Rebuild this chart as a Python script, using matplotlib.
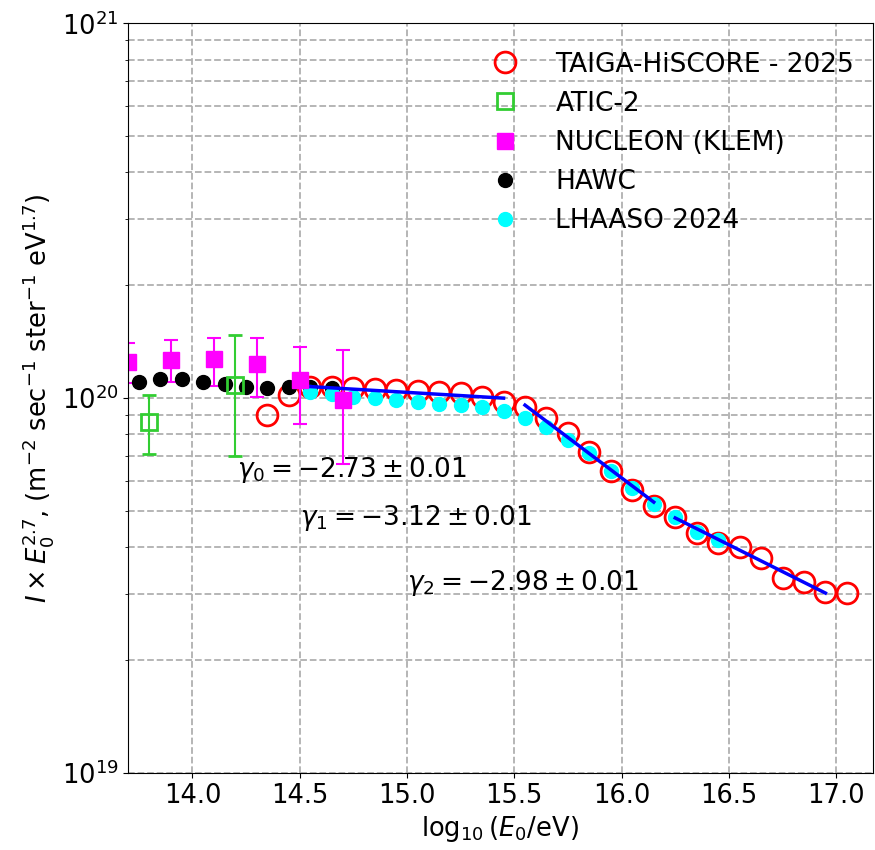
import numpy as np
import matplotlib
matplotlib.use('Agg')
import matplotlib.pyplot as plt

# TAIGA-HiSCORE 2025
taiga_x = [14.35, 14.45, 14.55, 14.65, 14.75, 14.85, 14.95, 15.05, 15.15, 15.25,
           15.35, 15.45, 15.55, 15.65, 15.75, 15.85, 15.95, 16.05, 16.15, 16.25,
           16.35, 16.45, 16.55, 16.65, 16.75, 16.85, 16.95, 17.05]
taiga_y = [0.901, 1.019, 1.070, 1.070, 1.063, 1.057, 1.050, 1.044, 1.037, 1.031,
           1.006, 0.976, 0.946, 0.884, 0.807, 0.718, 0.639, 0.568, 0.515, 0.482,
           0.437, 0.411, 0.401, 0.375, 0.331, 0.323, 0.304, 0.302]

# ATIC-2
atic_x = [13.8, 14.2]
atic_y = [0.863, 1.083]
atic_lo = [0.709, 0.700]
atic_hi = [1.019, 1.473]

# NUCLEON (KLEM)
nucl_x = [13.7, 13.9, 14.1, 14.3, 14.5, 14.7]
nucl_y = [1.247, 1.263, 1.271, 1.232, 1.117, 0.988]
nucl_lo = [1.096, 1.103, 1.076, 1.006, 0.852, 0.667]
nucl_hi = [1.402, 1.428, 1.445, 1.445, 1.368, 1.342]

# HAWC
hawc_x = [13.75, 13.85, 13.95, 14.05, 14.15, 14.25, 14.35, 14.45, 14.55, 14.65]
hawc_y = [1.103, 1.124, 1.124, 1.103, 1.090, 1.070, 1.063, 1.070, 1.070, 1.063]

# LHAASO 2024
lhaaso_x = [14.55, 14.65, 14.75, 14.85, 14.95, 15.05, 15.15, 15.25, 15.35, 15.45,
            15.55, 15.65, 15.75, 15.85, 15.95, 16.05, 16.15, 16.25, 16.35, 16.45]
lhaaso_y = [1.037, 1.025, 1.006, 1.000, 0.988, 0.976, 0.964, 0.958, 0.946, 0.923,
            0.884, 0.837, 0.773, 0.713, 0.639, 0.575, 0.522, 0.482, 0.439, 0.418]

# power-law fits (segment end points)
fit_x = [[14.52, 15.45], [15.55, 16.15], [16.25, 16.95]]
fit_y = [[1.076, 1.000], [0.958, 0.528], [0.479, 0.302]]
fit_labels = [r'$\gamma_0 = -2.73 \pm 0.01$',
              r'$\gamma_1 = -3.12 \pm 0.01$',
              r'$\gamma_2 = -2.98 \pm 0.01$']
label_x = [14.21, 14.50, 15.00]
label_y = [0.643, 0.479, 0.321]

scale = 1e20
fs = 18.5

fig = plt.figure(figsize=(8.75, 8.5), dpi=100)
ax = fig.add_axes([0.1463, 0.0906, 0.851, 0.882])

h1, = ax.plot(taiga_x, np.array(taiga_y) * scale, 'o', ms=15, mfc='none', mec='red', mew=2,
              label='TAIGA-HiSCORE - 2025')

ay = np.array(atic_y) * scale
h2 = ax.errorbar(atic_x, ay, yerr=[ay - np.array(atic_lo) * scale, np.array(atic_hi) * scale - ay],
                 fmt='s', ms=12, mfc='none', mec='limegreen', mew=2, ecolor='limegreen',
                 elinewidth=1.5, capsize=5, capthick=1.5, label='ATIC-2')

ny = np.array(nucl_y) * scale
h3 = ax.errorbar(nucl_x, ny, yerr=[ny - np.array(nucl_lo) * scale, np.array(nucl_hi) * scale - ny],
                 fmt='s', ms=12, color='magenta', ecolor='magenta',
                 elinewidth=1.5, capsize=5, capthick=1.5, label='NUCLEON (KLEM)')

h4, = ax.plot(hawc_x, np.array(hawc_y) * scale, 'o', ms=10, color='black', label='HAWC')
h5, = ax.plot(lhaaso_x, np.array(lhaaso_y) * scale, 'o', ms=10, color='cyan', label='LHAASO 2024')

for fx, fy in zip(fit_x, fit_y):
    ax.plot(fx, np.array(fy) * scale, '-', color='blue', lw=2.5)

for lx, ly, t in zip(label_x, label_y, fit_labels):
    ax.text(lx, ly * scale, t, fontsize=19, va='center', ha='left')

ax.set_yscale('log')
ax.set_xlim(13.7, 17.17)
ax.set_ylim(1e19, 1e21)
ax.set_xticks([14.0, 14.5, 15.0, 15.5, 16.0, 16.5, 17.0])
ax.tick_params(labelsize=fs)
ax.grid(True, which='both', ls='--', color='#b0b0b0', lw=1.3)
ax.set_axisbelow(True)

ax.set_xlabel(r'$\log_{10}(E_0/\mathrm{eV})$', fontsize=fs)
ax.set_ylabel(r'$I \times E_0^{2.7}$, (m$^{-2}$ sec$^{-1}$ ster$^{-1}$ eV$^{1.7}$)', fontsize=fs)

ax.legend([h1, h2[0], h3[0], h4, h5],
          ['TAIGA-HiSCORE - 2025', 'ATIC-2', 'NUCLEON (KLEM)', 'HAWC', 'LHAASO 2024'],
          loc='upper right', bbox_to_anchor=(1.0, 0.987), fontsize=19, frameon=False,
          borderaxespad=0.3, handletextpad=0.9)

fig.savefig('out.png', dpi=100)
